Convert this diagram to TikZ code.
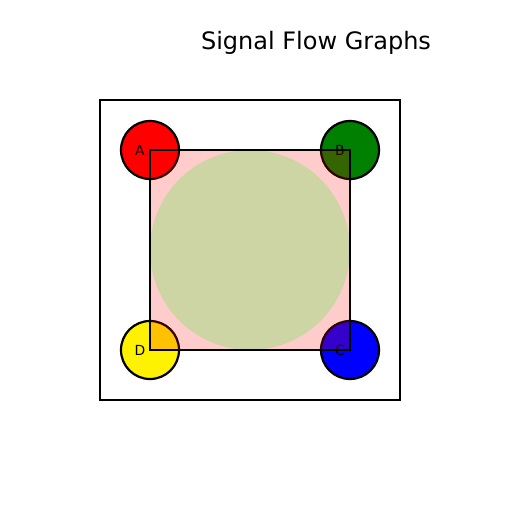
\documentclass[tikz,border=0pt]{standalone}
\usepackage{fontspec}
\setmainfont{DejaVu Sans}
\definecolor{mgreen}{RGB}{0,128,0}
\definecolor{olivecirc}{RGB}{204,213,163}
\begin{document}
\begin{tikzpicture}[x=1bp,y=-1bp,
  corner/.style={circle,draw=black,line width=2.2bp,minimum size=58bp,inner sep=0pt},
  lbl/.style={font=\fontsize{13.9bp}{16bp}\selectfont,inner sep=0pt}]
\useasboundingbox (0,0) rectangle (512,512);
\node[font=\fontsize{24bp}{28bp}\selectfont,inner sep=0pt] (title) at (316,43) {Signal Flow Graphs};
\draw[line width=1.5bp] (100,100) rectangle (400,400);
\node[corner,fill=red] (A) at (150,150) {};
\node[corner,fill=mgreen] (B) at (350,150) {};
\node[corner,fill=blue] (C) at (350,350) {};
\node[corner,fill=yellow] (D) at (150,350) {};
\node[lbl] (la) at (140,150) {A};
\node[lbl] (lb) at (340,150) {B};
\node[lbl] (lc) at (340,350) {C};
\node[lbl] (ld) at (140,350) {D};
\fill[red,fill opacity=0.2] (150,150) rectangle (350,350);
\fill[olivecirc] (250,250) circle (100);
\draw[line width=1.5bp] (150,150) rectangle (350,350);
\end{tikzpicture}
\end{document}
